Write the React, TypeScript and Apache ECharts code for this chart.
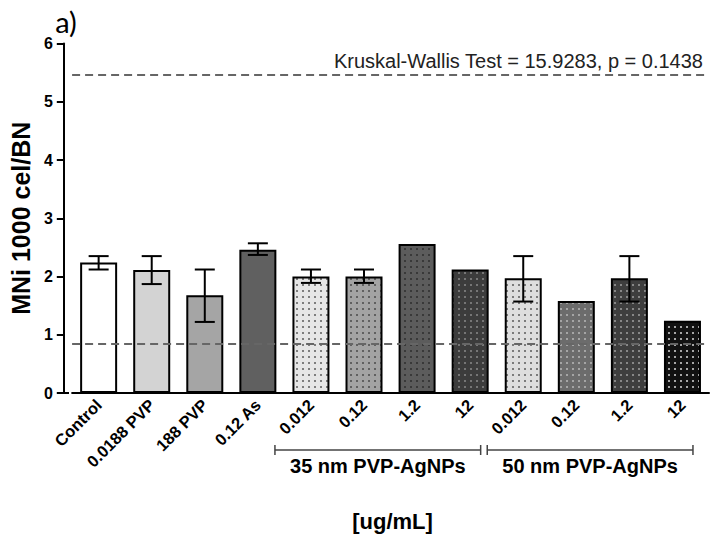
import React, { useEffect, useRef } from "react";
import * as echarts from "echarts";

const categories = ["Control", "0.0188 PVP", "188 PVP", "0.12 As", "0.012", "0.12", "1.2", "12", "0.012", "0.12", "1.2", "12"];
const means = [2.24, 2.11, 1.68, 2.46, 2.0, 2.0, 2.56, 2.12, 1.97, 1.58, 1.97, 1.24];
const errLow = [2.12, 1.87, 1.22, 2.37, 1.89, 1.89, null, null, 1.57, null, 1.57, null];
const errHigh = [2.35, 2.35, 2.12, 2.57, 2.12, 2.12, null, null, 2.35, null, 2.35, null];
const fills = ["#ffffff", "#d3d3d3", "#a5a5a5", "#606060", "#e6e6e6", "#a3a3a3", "#5c5c5c", "#3c3c3c", "#dedede", "#6c6c6c", "#3e3e3e", "#111111"];
const dots = [null, null, null, null, "#5a5a5a", "#4a4a4a", "#2e2e2e", "#8a8a8a", "#5a5a5a", "#b8b8b8", "#a0a0a0", "#d8d8d8"];
const yTicks = [0, 1, 2, 3, 4, 5, 6];
const refUpper = 5.46;
const refLower = 0.84;
const testLabel = "Kruskal-Wallis Test = 15.9283, p = 0.1438";
const groups = [
  { label: "35 nm PVP-AgNPs", from: 4, to: 7 },
  { label: "50 nm PVP-AgNPs", from: 8, to: 11 },
];

function makePattern(bg: string, dot: string) {
  const c = document.createElement("canvas");
  c.width = 6;
  c.height = 6;
  const ctx = c.getContext("2d")!;
  ctx.fillStyle = bg;
  ctx.fillRect(0, 0, 6, 6);
  ctx.fillStyle = dot;
  ctx.beginPath();
  ctx.arc(3, 3, 1, 0, Math.PI * 2);
  ctx.fill();
  return { image: c, repeat: "repeat" } as any;
}

export default function App() {
  const ref = useRef<HTMLDivElement>(null);
  useEffect(() => {
    if (!ref.current) return;
    const chart = echarts.init(ref.current, undefined, { renderer: "svg" });
    const font = "'Liberation Sans', Arial, sans-serif";
    const barData = means.map((v, i) => ({
      value: v,
      itemStyle: {
        color: dots[i] ? makePattern(fills[i], dots[i] as string) : fills[i],
        borderColor: "#000",
        borderWidth: 2,
      },
    }));
    const errData = means
      .map((_, i) => [i, errLow[i], errHigh[i]])
      .filter((d) => d[1] != null && d[2] != null);
    chart.setOption({
      animation: false,
      grid: { left: 68.3, right: 1, top: 43.5, bottom: 146 },
      xAxis: {
        type: "category",
        data: categories,
        axisLine: { lineStyle: { color: "#000", width: 2 } },
        axisTick: { alignWithLabel: true, length: 6, lineStyle: { color: "#000", width: 2 } },
        axisLabel: {
          rotate: 45,
          interval: 0,
          margin: 9,
          color: "#000",
          fontSize: 16.5,
          fontWeight: "bold",
          fontFamily: font,
        },
      },
      yAxis: {
        type: "value",
        min: 0,
        max: 6,
        interval: 1,
        offset: 8.3,
        splitLine: { show: false },
        axisLine: { show: true, lineStyle: { color: "#000", width: 2 } },
        axisTick: { show: true, length: 7, lineStyle: { color: "#000", width: 2 } },
        axisLabel: {
          color: "#000",
          fontSize: 16,
          fontWeight: "bold",
          fontFamily: font,
          margin: 11,
          formatter: (v: number) => (yTicks.includes(v) ? String(v) : ""),
        },
        name: "MNi 1000 cel/BN",
        nameLocation: "middle",
        nameGap: 28,
        nameTextStyle: { color: "#000", fontSize: 25, fontWeight: "bold", fontFamily: font },
      },
      series: [
        {
          type: "bar",
          data: barData,
          barWidth: 37,
          markLine: {
            silent: true,
            symbol: "none",
            z: 10,
            lineStyle: { color: "#666", width: 2, type: [8, 5] },
            data: [
              {
                yAxis: refUpper,
                label: {
                  show: true,
                  position: "insideEndTop",
                  formatter: testLabel,
                  color: "#222",
                  fontSize: 20,
                  fontFamily: font,
                  distance: [6, 4],
                },
              },
              { yAxis: refLower, label: { show: false } },
            ],
          },
        },
        {
          type: "custom",
          z: 5,
          data: errData,
          renderItem: (params: any, api: any) => {
            const x = api.value(0);
            const lo = api.coord([x, api.value(1)]);
            const hi = api.coord([x, api.value(2)]);
            const hw = 10;
            const style = { stroke: "#000", lineWidth: 2 };
            return {
              type: "group",
              children: [
                { type: "line", shape: { x1: lo[0], y1: lo[1], x2: hi[0], y2: hi[1] }, style },
                { type: "line", shape: { x1: lo[0] - hw, y1: lo[1], x2: lo[0] + hw, y2: lo[1] }, style },
                { type: "line", shape: { x1: hi[0] - hw, y1: hi[1], x2: hi[0] + hw, y2: hi[1] }, style },
              ],
            };
          },
        },
      ],
    });

    const graphics: any[] = [];
    const y0 = chart.convertToPixel({ yAxisIndex: 0 }, 0) as number;
    graphics.push({
      type: "line",
      shape: { x1: 59, y1: y0, x2: 69, y2: y0 },
      style: { stroke: "#000", lineWidth: 2 },
    });
    const by = 450;
    groups.forEach((g) => {
      const xa = (chart.convertToPixel({ xAxisIndex: 0 }, g.from) as number) - 36;
      const xb = (chart.convertToPixel({ xAxisIndex: 0 }, g.to) as number) + 10.5;
      const st = { stroke: "#444", lineWidth: 1.5 };
      graphics.push({ type: "line", shape: { x1: xa, y1: by, x2: xb, y2: by }, style: st });
      graphics.push({ type: "line", shape: { x1: xa, y1: by - 5, x2: xa, y2: by + 5 }, style: st });
      graphics.push({ type: "line", shape: { x1: xb, y1: by - 5, x2: xb, y2: by + 5 }, style: st });
      graphics.push({
        type: "text",
        x: (xa + xb) / 2,
        y: by + 16,
        style: {
          text: g.label,
          fill: "#000",
          fontSize: 20,
          fontWeight: "bold",
          fontFamily: font,
          textAlign: "center",
          textVerticalAlign: "middle",
        },
      });
    });
    graphics.push({
      type: "text",
      x: 392.5,
      y: 521.5,
      style: { text: "[ug/mL]", fill: "#000", fontSize: 22, fontWeight: "bold", fontFamily: font, textAlign: "center", textVerticalAlign: "middle" },
    });
    graphics.push({
      type: "text",
      x: 66,
      y: 21,
      style: { text: "a)", fill: "#000", fontSize: 29, fontFamily: "Lato, 'Open Sans', sans-serif", textAlign: "center", textVerticalAlign: "middle" },
    });
    chart.setOption({ graphic: graphics });

    return () => chart.dispose();
  }, []);
  return <div ref={ref} style={{ position: "fixed", left: 0, top: 0, width: 710, height: 539, background: "#fff" }} />;
}
